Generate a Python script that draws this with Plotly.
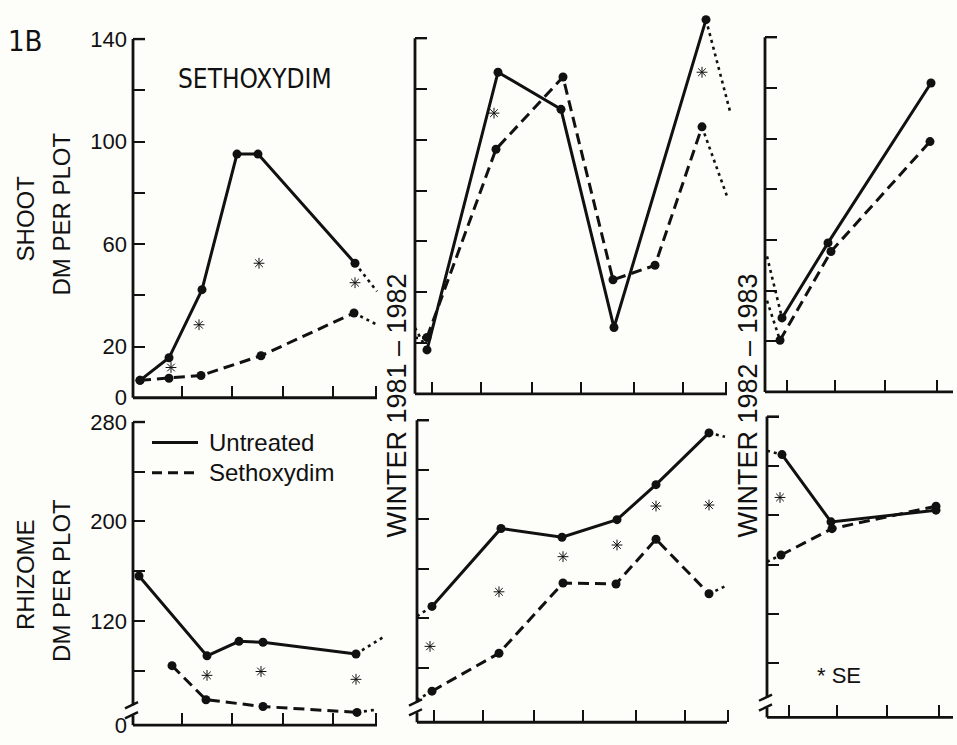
import plotly.graph_objects as go

# ---------------- DATA ----------------
# x in months from the start of each season axis; y = dry matter per plot
# Panel 1: shoot, 1981 season
p1_unt_x = [0.14, 0.72, 1.38, 2.08, 2.50, 4.44]
p1_unt_y = [6.8, 15.6, 42.2, 95.1, 95.1, 52.5]
p1_set_x = [0.14, 0.72, 1.36, 2.56, 4.42]
p1_set_y = [6.8, 7.6, 8.7, 16.4, 33.1]
p1_se_x = [0.76, 1.32, 2.52, 4.44]
p1_se_y = [11.8, 28.5, 52.5, 44.9]
p1_unt_dot_x = [4.44, 4.88]
p1_unt_dot_y = [52.5, 41.5]
p1_set_dot_x = [4.42, 4.88]
p1_set_dot_y = [33.1, 28.5]

# Panel 2: shoot, 1982 season
p2_unt_x = [0.24, 1.66, 2.92, 3.98, 5.82]
p2_unt_y = [17.3, 126.6, 112.0, 26.1, 147.3]
p2_set_x = [0.24, 1.62, 2.96, 3.96, 4.80, 5.74]
p2_set_y = [22.2, 96.3, 124.7, 44.9, 50.6, 105.1]
p2_se_x = [1.58, 5.74]
p2_se_y = [110.5, 126.6]
p2_unt_dot_x = [0.0, 0.24, None, 5.82, 6.30]
p2_unt_dot_y = [26.0, 17.3, None, 147.3, 111.2]
p2_set_dot_x = [0.0, 0.24, None, 5.74, 6.26]
p2_set_dot_y = [22.0, 22.2, None, 105.1, 76.7]

# Panel 3: shoot, 1983 season
p3_unt_x = [0.34, 1.26, 3.32]
p3_unt_y = [29.2, 58.8, 121.9]
p3_set_x = [0.30, 1.32, 3.30]
p3_set_y = [20.4, 55.4, 98.8]
p3_unt_dot_x = [0.04, 0.34]
p3_unt_dot_y = [53.5, 29.2]
p3_set_dot_x = [0.04, 0.30]
p3_set_dot_y = [36.0, 20.4]

# Panel 4: rhizome, 1981 season
p4_unt_x = [0.12, 1.48, 2.12, 2.60, 4.46]
p4_unt_y = [156.1, 91.8, 103.5, 102.7, 93.3]
p4_set_x = [0.78, 1.46, 2.60, 4.48]
p4_set_y = [83.9, 56.5, 51.0, 46.3]
p4_se_x = [1.48, 2.56, 4.46]
p4_se_y = [76.1, 79.2, 72.9]
p4_unt_dot_x = [4.46, 5.00]
p4_unt_dot_y = [93.3, 106.7]
p4_set_dot_x = [4.48, 4.88]
p4_set_dot_y = [46.3, 48.6]

# Panel 5: rhizome, 1982 season
p5_unt_x = [0.30, 1.68, 2.90, 4.00, 4.78, 5.84]
p5_unt_y = [129.6, 192.6, 185.5, 199.7, 228.0, 269.8]
p5_set_x = [0.30, 1.64, 2.92, 3.98, 4.78, 5.84]
p5_set_y = [61.1, 91.8, 148.5, 147.7, 183.9, 139.8]
p5_se_x = [0.26, 1.64, 2.92, 4.00, 4.78, 5.84]
p5_se_y = [97.3, 141.4, 169.8, 179.2, 210.7, 211.5]
p5_unt_dot_x = [0.0, 0.30, None, 5.84, 6.16]
p5_unt_dot_y = [121.7, 129.6, None, 269.8, 266.6]
p5_set_dot_x = [0.0, 0.30, None, 5.84, 6.22]
p5_set_dot_y = [54.0, 61.1, None, 139.8, 146.9]

# Panel 6: rhizome, 1983 season
p6_unt_x = [0.30, 1.28, 3.38]
p6_unt_y = [249.2, 194.6, 204.1]
p6_set_x = [0.28, 1.30, 3.38]
p6_set_y = [167.7, 189.1, 207.3]
p6_se_x = [0.26]
p6_se_y = [214.4]
p6_unt_dot_x = [0.0, 0.30]
p6_unt_dot_y = [252.3, 249.2]
p6_set_dot_x = [0.0, 0.28]
p6_set_dot_y = [162.2, 167.7]

# tick positions
shoot_ticks = [0, 20, 40, 60, 80, 100, 120, 140]
shoot_labels = ["0", "20", "", "60", "", "100", "", "140"]
rhiz_ticks = [36, 80, 120, 160, 200, 240, 280]
rhiz_labels = ["0", "", "120", "", "200", "", "280"]
xt_a = [0.98, 1.98, 3.0, 4.0, 4.86]
xt_b = [0.33, 1.32, 2.33, 3.32, 4.37, 5.36, 6.22]
xt_c = [0.43, 1.40, 2.40, 3.43]

# ---------------- LAYOUT GEOMETRY ----------------
W, H = 957, 745
UNIT = 50
INK = "#111111"
BG = "#fdfdf9"

P = {
    1: dict(x0=133, xend=4.88, xmax=5.1, ybot=402, s=2.629, ymin=0, ymax=150, ytop=140, xt=xt_a, lab=True, top=True),
    2: dict(x0=415, xend=6.24, xmax=6.5, ybot=398, s=2.607, ymin=0, ymax=150, ytop=140, xt=xt_b, lab=False, top=True),
    3: dict(x0=765, xend=3.76, xmax=3.8, ybot=396, s=2.600, ymin=0, ymax=150, ytop=140, xt=xt_c, lab=False, top=True),
    4: dict(x0=133, xend=4.88, xmax=5.1, ybot=738, s=1.275, ymin=36, ymax=285, ytop=280, xt=xt_a, lab=True, top=False),
    5: dict(x0=417, xend=6.20, xmax=6.4, ybot=735, s=1.270, ymin=36, ymax=285, ytop=280, xt=xt_b, lab=False, top=False),
    6: dict(x0=767, xend=3.72, xmax=3.76, ybot=730, s=1.265, ymin=36, ymax=285, ytop=280, xt=xt_c, lab=False, top=False),
}


def xp(k, xv):
    return (P[k]["x0"] + xv * UNIT) / W


def yp(k, yv):
    p = P[k]
    return 1 - (p["ybot"] - (yv - p["ymin"]) * p["s"]) / H


fig = go.Figure()

data = {
    1: (p1_unt_x, p1_unt_y, p1_set_x, p1_set_y, p1_se_x, p1_se_y, p1_unt_dot_x, p1_unt_dot_y, p1_set_dot_x, p1_set_dot_y),
    2: (p2_unt_x, p2_unt_y, p2_set_x, p2_set_y, p2_se_x, p2_se_y, p2_unt_dot_x, p2_unt_dot_y, p2_set_dot_x, p2_set_dot_y),
    3: (p3_unt_x, p3_unt_y, p3_set_x, p3_set_y, [], [], p3_unt_dot_x, p3_unt_dot_y, p3_set_dot_x, p3_set_dot_y),
    4: (p4_unt_x, p4_unt_y, p4_set_x, p4_set_y, p4_se_x, p4_se_y, p4_unt_dot_x, p4_unt_dot_y, p4_set_dot_x, p4_set_dot_y),
    5: (p5_unt_x, p5_unt_y, p5_set_x, p5_set_y, p5_se_x, p5_se_y, p5_unt_dot_x, p5_unt_dot_y, p5_set_dot_x, p5_set_dot_y),
    6: (p6_unt_x, p6_unt_y, p6_set_x, p6_set_y, p6_se_x, p6_se_y, p6_unt_dot_x, p6_unt_dot_y, p6_set_dot_x, p6_set_dot_y),
}

DASH = "11px,6px"
DOT = "3px,4px"
shapes = []
annotations = []

for k, p in P.items():
    xa = "x" if k == 1 else f"x{k}"
    ya = "y" if k == 1 else f"y{k}"
    ux, uy, sx, sy, ex, ey, udx, udy, sdx, sdy = data[k]
    common = dict(xaxis=xa, yaxis=ya, showlegend=False, hoverinfo="skip")
    fig.add_trace(go.Scatter(x=udx, y=udy, mode="lines", line=dict(color=INK, width=2.6, dash=DOT), **common))
    fig.add_trace(go.Scatter(x=sdx, y=sdy, mode="lines", line=dict(color=INK, width=2.6, dash=DOT), **common))
    fig.add_trace(go.Scatter(x=ux, y=uy, mode="lines+markers", line=dict(color=INK, width=3),
                             marker=dict(color=INK, size=9), cliponaxis=False, **common))
    fig.add_trace(go.Scatter(x=sx, y=sy, mode="lines+markers", line=dict(color=INK, width=3, dash=DASH),
                             marker=dict(color=INK, size=9), cliponaxis=False, **common))
    if ex:
        fig.add_trace(go.Scatter(x=ex, y=ey, mode="markers", cliponaxis=False,
                                 marker=dict(symbol="asterisk-open", size=9, color=INK, line=dict(color=INK, width=1)),
                                 **common))

    dom_x = [p["x0"] / W, (p["x0"] + p["xmax"] * UNIT) / W]
    dom_y = [1 - p["ybot"] / H, 1 - (p["ybot"] - (p["ymax"] - p["ymin"]) * p["s"]) / H]
    xkey = "xaxis" if k == 1 else f"xaxis{k}"
    ykey = "yaxis" if k == 1 else f"yaxis{k}"
    fig.layout[xkey] = dict(domain=dom_x, range=[0, p["xmax"]], anchor=ya, showgrid=False, zeroline=False,
                            showline=False, ticks="inside", ticklen=12, tickwidth=2, tickcolor=INK,
                            tickvals=p["xt"], showticklabels=False, fixedrange=True)
    if p["top"]:
        tv, tt = shoot_ticks, shoot_labels
    else:
        tv, tt = rhiz_ticks, rhiz_labels
    fig.layout[ykey] = dict(domain=dom_y, range=[p["ymin"], p["ymax"]], anchor=xa, showgrid=False, zeroline=False,
                            showline=False, ticks="inside", ticklen=12, tickwidth=2, tickcolor=INK,
                            tickvals=tv, ticktext=tt, showticklabels=p["lab"], ticklabelstandoff=5,
                            tickfont=dict(family="Liberation Sans, Arial, sans-serif", size=22, color=INK),
                            fixedrange=True)

    # axis lines (paper coordinates derived from the axis scale)
    lw = 2.8
    shapes.append(dict(type="line", xref="paper", yref="paper", x0=xp(k, 0), x1=xp(k, p["xend"]),
                       y0=yp(k, p["ymin"]), y1=yp(k, p["ymin"]), line=dict(color=INK, width=lw)))
    if p["top"]:
        shapes.append(dict(type="line", xref="paper", yref="paper", x0=xp(k, 0), x1=xp(k, 0),
                           y0=yp(k, p["ymin"]), y1=yp(k, p["ytop"]), line=dict(color=INK, width=lw)))
    else:
        b_lo, b_hi = p["ymin"] + 8, p["ymin"] + 16
        shapes.append(dict(type="line", xref="paper", yref="paper", x0=xp(k, 0), x1=xp(k, 0),
                           y0=yp(k, b_hi), y1=yp(k, p["ytop"]), line=dict(color=INK, width=lw)))
        shapes.append(dict(type="line", xref="paper", yref="paper", x0=xp(k, 0), x1=xp(k, 0),
                           y0=yp(k, p["ymin"]), y1=yp(k, b_lo), line=dict(color=INK, width=lw)))
        for bv in (b_lo, b_hi):
            shapes.append(dict(type="line", xref="paper", yref="paper", x0=xp(k, -0.16), x1=xp(k, 0.1),
                               y0=yp(k, bv - 2.5), y1=yp(k, bv + 2.5), line=dict(color=INK, width=2.4)))
    shapes.append(dict(type="line", xref="paper", yref="paper", x0=xp(k, 0), x1=xp(k, 0.24),
                       y0=yp(k, p["ytop"]), y1=yp(k, p["ytop"]), line=dict(color=INK, width=2.4)))

# legend (inside rhizome panel)
shapes.append(dict(type="line", xref="paper", yref="paper", x0=152 / W, x1=198 / W, y0=1 - 448 / H, y1=1 - 448 / H,
                   line=dict(color=INK, width=3)))
shapes.append(dict(type="line", xref="paper", yref="paper", x0=152 / W, x1=200 / W, y0=1 - 479 / H, y1=1 - 479 / H,
                   line=dict(color=INK, width=3, dash="10px,6px")))

SANS = "Liberation Sans, Arial, sans-serif"
NARROW = "Liberation Sans Narrow, DejaVu Sans Condensed, Arial Narrow, sans-serif"


def ann(text, px, py, size, family=SANS, angle=0, xanchor="center"):
    annotations.append(dict(text=text, x=px / W, y=1 - py / H, xref="paper", yref="paper", showarrow=False,
                            textangle=angle, xanchor=xanchor, yanchor="middle",
                            font=dict(family=family, size=size, color=INK)))


ann("1B", 25, 36, 29, NARROW)
ann("SETHOXYDIM", 255, 75, 26, NARROW)
ann("SHOOT", 25, 218, 24, SANS, -90)
ann("DM PER PLOT", 62, 214, 24, SANS, -90)
ann("RHIZOME", 25, 584, 24, SANS, -90)
ann("DM PER PLOT", 62, 590, 24, SANS, -90)
ann("WINTER 1981 – 1982", 397, 410, 27, SANS, -90)
ann("WINTER 1982 – 1983", 748, 410, 27, SANS, -90)
ann("Untreated", 207, 448, 24, SANS, xanchor="left")
ann("Sethoxydim", 207, 479, 24, SANS, xanchor="left")
ann("* SE", 839, 687, 22, SANS)

fig.update_layout(width=W, height=H, margin=dict(l=0, r=0, t=0, b=0), autosize=False,
                  paper_bgcolor=BG, plot_bgcolor="rgba(0,0,0,0)", shapes=shapes, annotations=annotations,
                  showlegend=False)

fig.write_html("out.html", config=dict(displayModeBar=False, staticPlot=True))
